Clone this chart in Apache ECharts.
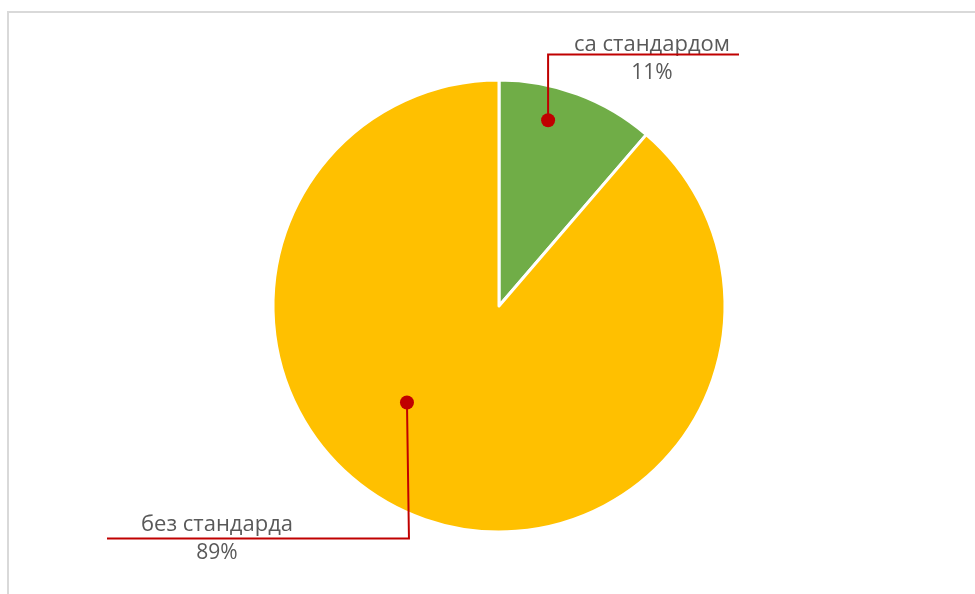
<!DOCTYPE html>
<html><head><meta charset="utf-8">
<script src="https://cdn.jsdelivr.net/npm/echarts@6/dist/echarts.min.js"></script>
<style>html,body{margin:0;padding:0;background:#fff}#c{width:975px;height:594px}</style>
</head><body><div id="c"></div>
<script>
// Data
const categories = ['са стандардом', 'без стандарда'];
const values = [11.3, 88.7];
const colors = ['#70ad47', '#ffc000'];

// Layout (pixels / relative positions only)
const CX = 499, CY = 306, R = 226;
// anchor dot inside slice: fraction along the slice span, fraction of radius
const anchors = [{k: 0.364, rf: 0.85}, {k: 0.573, rf: 0.59}];
// label boxes: text center x, leader line y, leader line end x, vertical offset of text block, corner x shift
const labelBoxes = [
  {cx: 652, lineY: 54.5, endX: 739, dy: 4.5, sx: 0},
  {cx: 217, lineY: 538.5, endX: 107, dy: 0, sx: 2}
];
const FONT = '"Open Sans", sans-serif';

const total = values.reduce((a, b) => a + b, 0);
function anchorPoint(i) {
  let start = 0;
  for (let j = 0; j < i; j++) start += values[j] / total * 360;
  const span = values[i] / total * 360;
  const th = (start + anchors[i].k * span) * Math.PI / 180;
  const r = R * anchors[i].rf;
  return [CX + r * Math.sin(th), CY - r * Math.cos(th)];
}

const chart = echarts.init(document.getElementById('c'), null, {renderer: 'canvas'});
const leaders = [];
categories.forEach((c, i) => {
  const p = anchorPoint(i);
  const b = labelBoxes[i];
  leaders.push({type: 'polyline', z: 100, shape: {points: [[p[0], p[1]], [p[0] + b.sx, b.lineY], [b.endX, b.lineY]]},
    style: {stroke: '#c00000', lineWidth: 2, fill: null}});
  leaders.push({type: 'circle', z: 101, shape: {cx: p[0], cy: p[1], r: 7}, style: {fill: '#c00000'}});
});

chart.setOption({
  animation: false,
  backgroundColor: '#fff',
  graphic: [
    {type: 'polyline', z: -1, shape: {points: [[8, 600], [8, 12], [980, 12]]}, style: {stroke: '#d9d9d9', lineWidth: 2, fill: null}},
    ...leaders
  ],
  series: [{
    type: 'pie',
    center: [CX, CY],
    radius: R,
    startAngle: 90,
    clockwise: true,
    data: categories.map((c, i) => ({name: c, value: values[i], itemStyle: {color: colors[i]}})),
    itemStyle: {borderColor: '#fff', borderWidth: 3},
    emphasis: {disabled: true},
    label: {
      show: true,
      position: 'outside',
      formatter: p => '{n|' + p.name + '}\n{p|' + Math.round(p.percent) + '%}',
      rich: {
        n: {fontFamily: FONT, fontSize: 22, color: '#595959', lineHeight: 28.5},
        p: {fontFamily: FONT, fontSize: 21, color: '#595959', lineHeight: 28.5}
      }
    },
    labelLine: {show: false},
    labelLayout: function (params) {
      const b = labelBoxes[params.dataIndex];
      return {x: b.cx, y: b.lineY + b.dy, align: 'center', verticalAlign: 'middle'};
    }
  }]
});
</script></body></html>
